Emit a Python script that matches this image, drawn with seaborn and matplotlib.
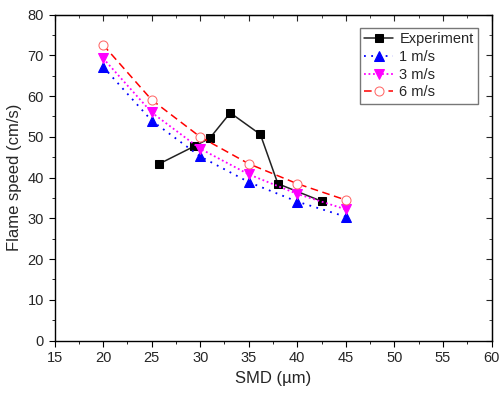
import numpy as np
import pandas as pd
import matplotlib
matplotlib.use("Agg")
import matplotlib.pyplot as plt
import seaborn as sns
from matplotlib.ticker import MultipleLocator

# experimental data
exp_smd = [25.8, 29.4, 31.0, 33.1, 36.2, 38.0, 42.5]
exp_speed = [43.4, 47.7, 49.7, 55.9, 50.6, 38.5, 34.2]

# model results for different velocities
model_smd = [20, 25, 30, 35, 40, 45]
speed_1ms = [67.2, 54.0, 45.2, 38.9, 34.1, 30.4]
speed_3ms = [69.3, 56.0, 47.1, 40.8, 36.0, 32.2]
speed_6ms = [72.6, 59.1, 50.0, 43.4, 38.5, 34.5]

sns.set_style("ticks")
plt.rcParams['font.family'] = ['Liberation Sans', 'DejaVu Sans']

fig = plt.figure(figsize=(5, 3.96), dpi=100)
ax = fig.add_axes([0.109, 0.140, 0.874, 0.823])

sns.lineplot(x=exp_smd, y=exp_speed, ax=ax, color="#222222", lw=1.1,
             marker="s", markersize=6, markerfacecolor="black",
             markeredgecolor="black", label="Experiment", sort=False)
sns.lineplot(x=model_smd, y=speed_1ms, ax=ax, color="blue", lw=1.3,
             linestyle=(0, (1, 3)), marker="^", markersize=7.5,
             markeredgecolor="blue", label="1 m/s")
sns.lineplot(x=model_smd, y=speed_3ms, ax=ax, color="magenta", lw=1.3,
             linestyle=(0, (1, 1.5)), marker="v", markersize=7.5,
             markeredgecolor="magenta", label="3 m/s")
sns.lineplot(x=model_smd, y=speed_6ms, ax=ax, color="red", lw=1.1,
             linestyle=(0, (5, 3)), marker="o", markersize=6.5,
             markerfacecolor="white", markeredgecolor="#ff6a6a", label="6 m/s")

ax.set_xlim(15, 60)
ax.set_ylim(0, 80)
ax.xaxis.set_major_locator(MultipleLocator(5))
ax.xaxis.set_minor_locator(MultipleLocator(2.5))
ax.yaxis.set_major_locator(MultipleLocator(10))
ax.yaxis.set_minor_locator(MultipleLocator(5))

for s in ax.spines.values():
    s.set_visible(True)
    s.set_color("black")
    s.set_linewidth(1.0)

ax.tick_params(axis="both", which="both", direction="out", labelsize=10.5, color="black")
ax.tick_params(which="major", length=4)
ax.tick_params(which="minor", length=2.5)

# inward ticks on top and right
ax_top = ax.secondary_xaxis("top")
ax_top.xaxis.set_major_locator(MultipleLocator(5))
ax_top.xaxis.set_minor_locator(MultipleLocator(2.5))
ax_top.tick_params(which="both", direction="in", labeltop=False)
ax_top.tick_params(which="major", length=4)
ax_top.tick_params(which="minor", length=2.5)
ax_right = ax.secondary_yaxis("right")
ax_right.yaxis.set_major_locator(MultipleLocator(10))
ax_right.yaxis.set_minor_locator(MultipleLocator(5))
ax_right.tick_params(which="both", direction="in", labelright=False)
ax_right.tick_params(which="major", length=4)
ax_right.tick_params(which="minor", length=2.5)

ax.set_xlabel("SMD (µm)", fontsize=12)
ax.set_ylabel("Flame speed (cm/s)", fontsize=12)

leg = ax.legend(loc="upper right", bbox_to_anchor=(0.969, 0.959), fontsize=10.5,
                frameon=True, fancybox=False, handlelength=2.0,
                borderpad=0.3, labelspacing=0.25, handletextpad=0.4,
                borderaxespad=0.0)
leg.get_frame().set_edgecolor("#555555")
leg.get_frame().set_linewidth(1.0)

fig.savefig("out.png", dpi=100)
